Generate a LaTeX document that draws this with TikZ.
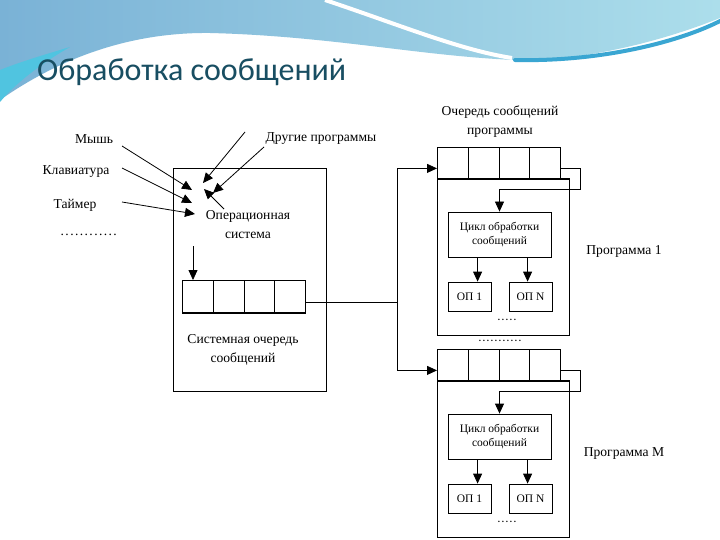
\documentclass[tikz,border=0pt]{standalone}
\usepackage{fontspec}
\setmainfont{Liberation Serif}
\newfontfamily\titlefont{Carlito}
\usetikzlibrary{arrows.meta}

\definecolor{hdrblue}{RGB}{122,178,214}
\definecolor{hdrcyan}{RGB}{172,222,235}
\definecolor{hdrstripe}{RGB}{80,196,224}
\definecolor{hdrdark}{RGB}{58,166,210}
\definecolor{titleink}{RGB}{24,78,98}

\newcommand{\dotrow}[2]{\hbox to #1{\leaders\hbox to #2{\hss.\hss}\hfill}}

\tikzset{
  box/.style = {draw, line width=0.8pt, inner sep=0pt},
  cell/.style = {draw, line width=0.8pt, inner sep=0pt, minimum width=30.75pt, minimum height=32pt},
  lbl/.style = {font=\fontsize{13.6}{19}\selectfont, align=center, inner sep=1pt},
  small/.style = {font=\fontsize{11.5}{13.5}\selectfont, align=center},
  conn/.style = {line width=0.8pt},
  >={Triangle[length=10pt,width=9pt]}
}

\begin{document}
\begin{tikzpicture}[x=1pt, y=-1pt]
\useasboundingbox (0,0) rectangle (720,540);
\fill[white] (0,0) rectangle (720,540);

% slide header
\shade[left color=hdrblue, right color=hdrcyan] (0,0) -- (720,0) -- (720,18) .. controls (640,50) and (560,62) .. (515,60) .. controls (420,56) and (330,36) .. (210,33) .. controls (120,32) and (50,65) .. (0,100) -- cycle;
\fill[hdrstripe] (0,70) .. controls (20,62) and (40,56) .. (70,47) .. controls (40,64) and (15,84) .. (0,102) -- cycle;
\draw[white, line width=4pt] (325,0) .. controls (400,25) and (460,50) .. (512,58);
\draw[hdrdark, line width=4pt, line cap=round] (515,60) .. controls (600,62) and (680,42) .. (722,20);
\node[anchor=base west, inner sep=0pt, text=titleink, font=\titlefont\fontsize{32}{36}\selectfont] (title) at (37,81) {Обработка сообщений};

% sources
\node[lbl] (mouse) at (94,139) {Мышь};
\node[lbl] (keyb) at (76,172) {Клавиатура};
\node[lbl] (timer) at (75,205) {Таймер};
\node[lbl] (more) at (91,235) {\dotrow{62pt}{4.8pt}};
\node[lbl] (others) at (321,139) {Другие программы};

% operating system
\node[box, minimum width=153pt, minimum height=223pt] (os) at (249.5,279.5) {};
\node[lbl] (ostext) at (248,225) {Операционная\\система};
\foreach \i in {1,...,4}
  \node[cell, anchor=north west] (s\i) at (182+30.75*\i-30.75,280) {};
\draw[line width=2pt] (s1.south west) -- (s4.south east);
\node[lbl] (sqtext) at (243,350) {Системная очередь\\сообщений};

\coordinate (m0) at (122,146);  \coordinate (m1) at (192,190);
\coordinate (k0) at (122,168);  \coordinate (k1) at (192,203);
\coordinate (t0) at (122,202);  \coordinate (t1) at (195,214);
\coordinate (o0) at (245,132);  \coordinate (o1) at (203,183);
\coordinate (p0) at (264,147);  \coordinate (p1) at (213,193);
\coordinate (r0) at (224,209);  \coordinate (r1) at (204,189);
\draw[->, conn] (m0) -- (m1);
\draw[->, conn] (k0) -- (k1);
\draw[->, conn] (t0) -- (t1);
\draw[->, conn] (o0) -- (o1);
\draw[->, conn] (p0) -- (p1);
\draw[->, conn] (r0) -- (r1);

\coordinate (osin) at (193,246);
\draw[->, conn] (osin) -- (osin |- s1.north);

% dispatch to the programs
\coordinate (sqout) at (305,302);
\coordinate (bus) at (397,302);
\draw[conn] (sqout) -- (bus);

\node[lbl] (pqtext) at (500,122) {Очередь сообщений\\программы};

\foreach \p/\dy/\lbl in {a/0/{Программа 1}, b/202/{Программа М}} {
  \foreach \i in {1,...,4}
    \node[cell, anchor=north west] (q\p\i) at (437+30.75*\i-30.75,147+\dy) {};
  \node[box, anchor=north west, minimum width=132pt, minimum height=156pt] (box\p) at (437,179+\dy) {};
  \draw[line width=2pt] (box\p.north west) -- (box\p.north east);
  \node[box, small, minimum width=103pt, minimum height=45pt] (cyc\p) at (499.5,234.5+\dy) {Цикл обработки\\сообщений};
  \node[box, small, minimum width=43pt, minimum height=29pt] (opone\p) at (469.5,296.5+\dy) {ОП 1};
  \node[box, small, minimum width=43pt, minimum height=29pt] (opn\p) at (530.5,296.5+\dy) {ОП N};
  \node[font=\fontsize{9}{9}\selectfont\bfseries] (dots\p) at (507,320+\dy) {\dotrow{20pt}{4pt}};
  \node[lbl] (name\p) at (624,251+\dy) {\lbl};
  \coordinate (ca\p) at ([xshift=30pt]cyc\p.south west);
  \coordinate (cb\p) at ([xshift=80pt]cyc\p.south west);
  \draw[->, conn] (ca\p) -- (ca\p |- opone\p.north);
  \draw[->, conn] (cb\p) -- (cb\p |- opn\p.north);
  \draw[->, conn] (bus) |- ([yshift=-5pt]q\p1.west);
  \draw[->, conn] ([yshift=-5pt]q\p4.east) -| ++(20,21) -| (cyc\p.north);
}
\node[font=\fontsize{9}{9}\selectfont\bfseries] (between) at (500,341) {\dotrow{44pt}{4pt}};
\end{tikzpicture}
\end{document}
